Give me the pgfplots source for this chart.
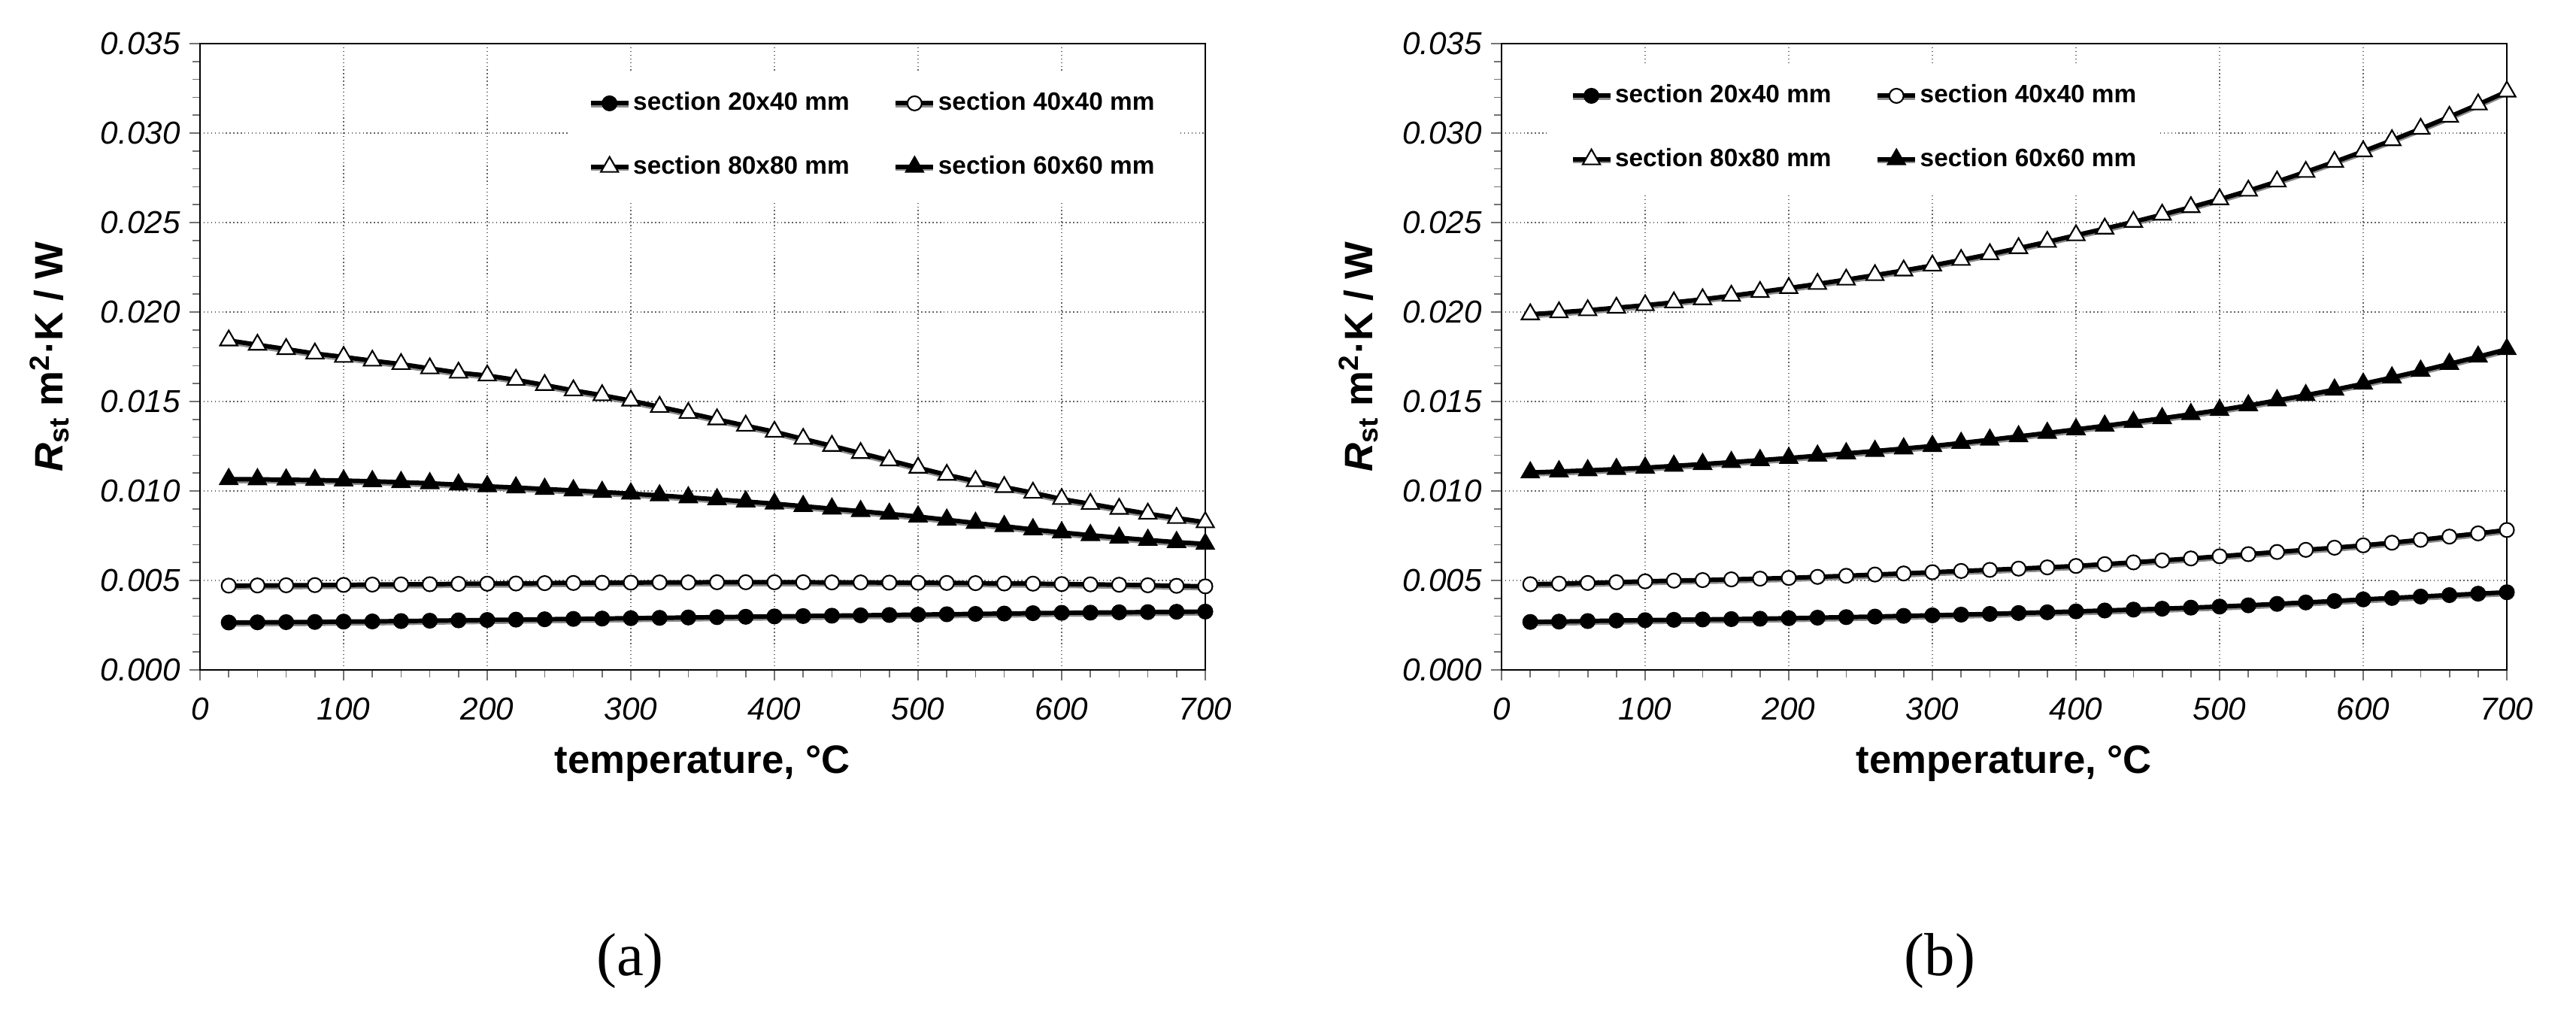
\documentclass[border=0pt]{standalone}
\usepackage{fontspec}
\setmainfont{Liberation Sans}
\newfontfamily\capfont{Liberation Serif}
\usepackage{pgfplots}
\usepackage{pgfplotstable}
\pgfplotsset{compat=1.18}

% panel (a): x, 20x40, 40x40, 80x80, 60x60
\pgfplotstableread{
x   a       b       c       d
20  0.00265 0.00471 0.01841 0.01066
40  0.00266 0.00472 0.01817 0.01065
60  0.00267 0.00473 0.01793 0.01063
80  0.00268 0.00474 0.01768 0.01061
100 0.00270 0.00475 0.01749 0.01058
120 0.00271 0.00477 0.01728 0.01054
140 0.00273 0.00478 0.01709 0.01049
160 0.00275 0.00479 0.01685 0.01043
180 0.00277 0.00481 0.01661 0.01035
200 0.00279 0.00482 0.01645 0.01026
220 0.00281 0.00483 0.01621 0.01019
240 0.00283 0.00485 0.01592 0.01011
260 0.00285 0.00486 0.01562 0.01003
280 0.00287 0.00487 0.01535 0.00994
300 0.00289 0.00488 0.01505 0.00985
320 0.00291 0.00489 0.01470 0.00975
340 0.00293 0.00489 0.01436 0.00964
360 0.00295 0.00490 0.01400 0.00953
380 0.00297 0.00490 0.01365 0.00941
400 0.00299 0.00490 0.01331 0.00929
420 0.00301 0.00490 0.01291 0.00915
440 0.00303 0.00489 0.01252 0.00901
460 0.00305 0.00489 0.01212 0.00887
480 0.00307 0.00488 0.01171 0.00872
500 0.00309 0.00487 0.01130 0.00857
520 0.00311 0.00486 0.01090 0.00839
540 0.00313 0.00485 0.01055 0.00821
560 0.00315 0.00483 0.01022 0.00803
580 0.00317 0.00482 0.00990 0.00785
600 0.00319 0.00480 0.00955 0.00768
620 0.00320 0.00478 0.00928 0.00753
640 0.00322 0.00476 0.00900 0.00739
660 0.00323 0.00473 0.00873 0.00726
680 0.00325 0.00470 0.00849 0.00714
700 0.00326 0.00467 0.00825 0.00704
}\dataA

% panel (b)
\pgfplotstableread{
x   a       b       c       d
20  0.00268 0.00479 0.01987 0.01103
40  0.00270 0.00482 0.01998 0.01109
60  0.00273 0.00486 0.02010 0.01115
80  0.00276 0.00490 0.02024 0.01122
100 0.00278 0.00495 0.02038 0.01130
120 0.00280 0.00499 0.02054 0.01140
140 0.00282 0.00502 0.02071 0.01150
160 0.00284 0.00506 0.02091 0.01161
180 0.00286 0.00510 0.02112 0.01172
200 0.00289 0.00514 0.02134 0.01184
220 0.00292 0.00520 0.02157 0.01197
240 0.00295 0.00526 0.02181 0.01210
260 0.00298 0.00533 0.02206 0.01223
280 0.00302 0.00539 0.02232 0.01237
300 0.00305 0.00546 0.02260 0.01251
320 0.00309 0.00553 0.02291 0.01268
340 0.00313 0.00559 0.02323 0.01286
360 0.00318 0.00566 0.02357 0.01305
380 0.00322 0.00573 0.02392 0.01324
400 0.00327 0.00581 0.02429 0.01344
420 0.00332 0.00591 0.02466 0.01364
440 0.00337 0.00601 0.02504 0.01385
460 0.00342 0.00612 0.02544 0.01406
480 0.00348 0.00623 0.02586 0.01429
500 0.00354 0.00635 0.02630 0.01452
520 0.00361 0.00647 0.02678 0.01478
540 0.00369 0.00659 0.02729 0.01506
560 0.00377 0.00671 0.02783 0.01535
580 0.00385 0.00683 0.02839 0.01566
600 0.00394 0.00696 0.02898 0.01599
620 0.00402 0.00711 0.02960 0.01634
640 0.00410 0.00727 0.03024 0.01671
660 0.00418 0.00745 0.03091 0.01710
680 0.00426 0.00763 0.03160 0.01750
700 0.00434 0.00782 0.03232 0.01792
}\dataB

\pgfplotsset{
  panel/.style={
    scale only axis, width=13.37cm, height=8.33cm,
    xmin=0, xmax=700, ymin=0, ymax=0.035,
    xtick={0,100,200,300,400,500,600,700},
    ytick={0,0.005,0.010,0.015,0.020,0.025,0.030,0.035},
    minor tick num=4, tick align=outside, tick pos=left,
    major tick length=4pt, minor tick length=2.8pt,
    tick style={black!55, line width=0.5pt},
    grid=major, major grid style={black!60, densely dotted, line width=0.3pt},
    axis line style={line width=0.7pt},
    /pgf/number format/assume math mode=true,
    ticklabel style={font=\fontsize{12}{12}\selectfont\itshape},
    xticklabel style={yshift=-3pt},
    yticklabel style={/pgf/number format/fixed, /pgf/number format/fixed zerofill,
      /pgf/number format/precision=3},
    scaled y ticks=false,
    xlabel={\fontsize{15}{15}\selectfont\bfseries temperature, °C},
    ylabel={\fontsize{15}{15}\selectfont\bfseries\textit{R}\textsubscript{st} m\textsuperscript{2}·K / W},
    every axis x label/.style={at={(axis description cs:0.5,-0.149)}, anchor=center},
    legend columns=2,
    legend cell align=left,
    legend image code/.code={\draw[mark repeat=2,mark phase=2,#1]
      plot coordinates {(0cm,0cm) (0.25cm,0cm) (0.5cm,0cm)};},
    legend style={draw=none, fill=white, font=\fontsize{9.5}{9.5}\selectfont\bfseries,
      inner xsep=0.28cm, inner ysep=0.22cm, row sep=0.41cm,
      nodes={inner xsep=1pt},
      /tikz/every even column/.append style={column sep=0.55cm}},
    every axis plot/.append style={black, line width=1.7pt,
      preaction={draw=black!45, line width=1.7pt, transform canvas={yshift=-0.7pt}}},
  },
  mA/.style={mark=*, mark size=2.7pt, mark options={solid, line width=0.6pt, fill=black}},
  mB/.style={mark=*, mark size=2.7pt, mark options={solid, line width=0.6pt, fill=white}},
  mC/.style={mark=triangle*, mark size=3.8pt, mark options={solid, line width=0.6pt, fill=white}},
  mD/.style={mark=triangle*, mark size=3.8pt, mark options={solid, line width=0.6pt, fill=black}},
}

\begin{document}
\begin{tikzpicture}
\path[use as bounding box] (0,0) rectangle (34.26cm,13.41cm);

\begin{axis}[panel, at={(2.66cm,4.50cm)}, anchor=south west,
  every axis y label/.style={at={(axis description cs:-0.150,0.5)}, rotate=90, anchor=center},
  legend style={at={(axis description cs:0.365,0.958)}, anchor=north west}]
\addplot[mA] table[x=x, y=a] {\dataA};
\addplot[mB] table[x=x, y=b] {\dataA};
\addplot[mC] table[x=x, y=c] {\dataA};
\addplot[mD] table[x=x, y=d] {\dataA};
\legend{section 20x40 mm, section 40x40 mm, section 80x80 mm, section 60x60 mm}
\end{axis}

\begin{axis}[panel, at={(19.97cm,4.50cm)}, anchor=south west,
  every axis y label/.style={at={(axis description cs:-0.142,0.5)}, rotate=90, anchor=center},
  legend style={at={(axis description cs:0.047,0.970)}, anchor=north west}]
\addplot[mA] table[x=x, y=a] {\dataB};
\addplot[mB] table[x=x, y=b] {\dataB};
\addplot[mC] table[x=x, y=c] {\dataB};
\addplot[mD] table[x=x, y=d] {\dataB};
\legend{section 20x40 mm, section 40x40 mm, section 80x80 mm, section 60x60 mm}
\end{axis}

\node[font=\capfont\fontsize{23}{23}\selectfont] at (8.38cm,0.63cm) {(a)};
\node[font=\capfont\fontsize{23}{23}\selectfont] at (25.80cm,0.63cm) {(b)};
\end{tikzpicture}
\end{document}
